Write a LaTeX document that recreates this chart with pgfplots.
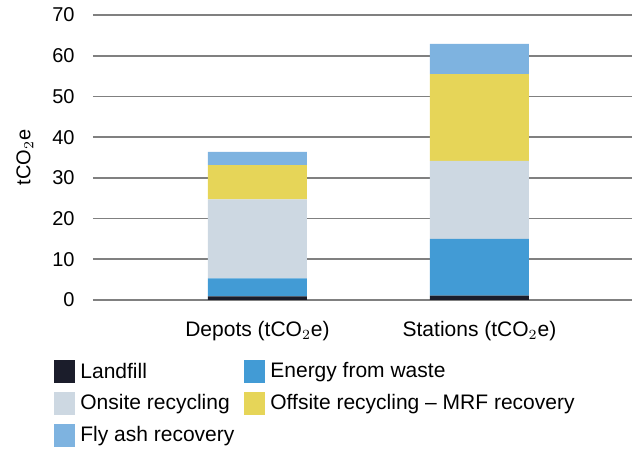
\documentclass[border=0pt]{standalone}
\usepackage{pgfplots}
\pgfplotsset{compat=1.18}
\usepackage{fontspec}
\setmainfont{Liberation Sans}
\definecolor{cLand}{HTML}{1B1D2B}
\definecolor{cEfw}{HTML}{429BD5}
\definecolor{cOn}{HTML}{CDD8E2}
\definecolor{cOff}{HTML}{E6D558}
\definecolor{cFly}{HTML}{7EB3E0}
\begin{document}
\begin{tikzpicture}
\begin{axis}[
  name=ax,
  scale only axis,
  width=269.5pt, height=142.5pt,
  ybar stacked, bar width=49.5pt,
  xmin=-0.741, xmax=1.687,
  ymin=0, ymax=70,
  ytick={0,10,...,70},
  xtick=data,
  xticklabels={Depots (tCO$_2$e), Stations (tCO$_2$e)},
  axis line style={draw=none},
  major tick length=0pt,
  ymajorgrids,
  grid style={black!50, line width=0.9pt},
  axis on top=false,
  font=\fontsize{10}{12}\selectfont,
  /pgf/number format/assume math mode=true,
  yticklabel style={font=\fontsize{10}{12}\selectfont, inner sep=0pt, anchor=east, xshift=-9pt},
  xticklabel style={font=\fontsize{10.5}{12}\selectfont, inner sep=0pt, anchor=center, yshift=-15.5pt},
  ylabel={tCO$_2$e},
  ylabel style={font=\fontsize{10}{12}\selectfont, at={(axis description cs:-0.1262,0.5)}, anchor=center, inner sep=0pt},
  legend columns=2,
  legend cell align=left,
  legend style={draw=none, fill=none, at={(axis description cs:0,0)}, anchor=north west,
    xshift=-19.5pt, yshift=-30pt, font=\fontsize{10.5}{12}\selectfont,
    inner sep=0pt, row sep=4.3pt, column sep=0pt,
    nodes={inner sep=0pt, anchor=west}},
  legend image code/.code={\fill[#1] (0pt,-5.75pt) rectangle (10.5pt,5.75pt);},
]
\addplot+[fill=cLand, draw=none] coordinates {(0,0.9) (1,1.1)};
\addlegendentry{\hspace{2.5pt}\makebox[82pt][l]{Landfill}}
\addplot+[fill=cEfw, draw=none] coordinates {(0,4.4) (1,13.9)};
\addlegendentry{\hspace{2.5pt}Energy from waste}
\addplot+[fill=cOn, draw=none] coordinates {(0,19.4) (1,19.2)};
\addlegendentry{\hspace{2.5pt}\makebox[82pt][l]{Onsite recycling}}
\addplot+[fill=cOff, draw=none] coordinates {(0,8.4) (1,21.3)};
\addlegendentry{\hspace{2.5pt}Offsite recycling -- MRF recovery}
\addplot+[fill=cFly, draw=none] coordinates {(0,3.3) (1,7.4)};
\addlegendentry{\hspace{2.5pt}Fly ash recovery}
\end{axis}
\pgfresetboundingbox
\path ([xshift=-46.5pt,yshift=-74.5pt]ax.south west) rectangle ([xshift=269.5pt,yshift=7.5pt]ax.north west);
\end{tikzpicture}
\end{document}
